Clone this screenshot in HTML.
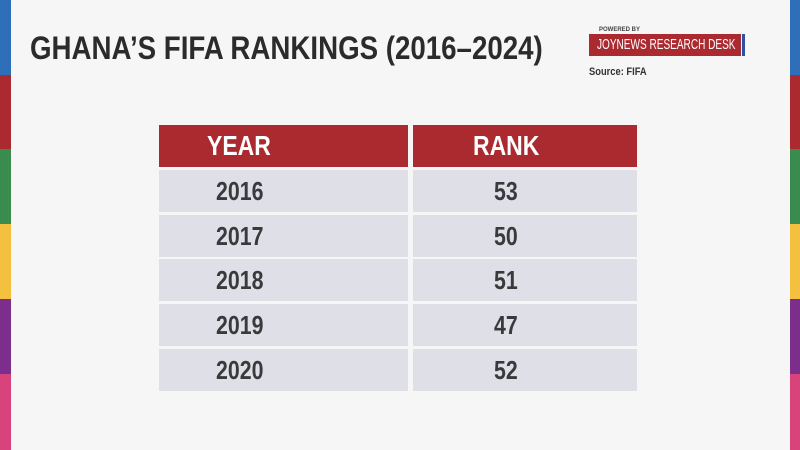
<!DOCTYPE html>
<html><head><style>
body{margin:0;width:800px;height:450px;background:#f6f6f6;position:relative;overflow:hidden;font-family:"Liberation Sans",sans-serif;font-weight:bold}
.s{position:absolute;width:11px}
.r{position:absolute;width:10px;left:790px}
.t{position:absolute;left:30px;top:30px;font-size:32px;color:#2b2b2b;white-space:nowrap;transform:scaleX(0.865);transform-origin:left top}
.c{position:absolute;display:flex;align-items:center;font-size:26px;color:#3a3a3c}
.c span{display:inline-block;transform:scaleX(0.82);transform-origin:left center}
.h{background:#ab2a30;color:#fff;font-size:28px}
.b{background:#dfdfe8}
</style></head><body>
<div class="s" style="left:0;top:0;height:75px;background:#2f6fba"></div>
<div class="s" style="left:0;top:75px;height:74px;background:#ab2a30"></div>
<div class="s" style="left:0;top:149px;height:75px;background:#3a8c4e"></div>
<div class="s" style="left:0;top:224px;height:75px;background:#f3c13f"></div>
<div class="s" style="left:0;top:299px;height:75px;background:#7b2e8c"></div>
<div class="s" style="left:0;top:374px;height:76px;background:#d8437c"></div>
<div class="r" style="top:0;height:75px;background:#2f6fba"></div>
<div class="r" style="top:75px;height:74px;background:#ab2a30"></div>
<div class="r" style="top:149px;height:75px;background:#3a8c4e"></div>
<div class="r" style="top:224px;height:75px;background:#f3c13f"></div>
<div class="r" style="top:299px;height:75px;background:#7b2e8c"></div>
<div class="r" style="top:374px;height:76px;background:#d8437c"></div>
<div class="t">GHANA’S FIFA RANKINGS (2016–2024)</div>
<div style="position:absolute;left:599px;top:27px;font-size:6px;color:#444">POWERED BY</div>
<div style="position:absolute;left:589px;top:34px;width:152px;height:22px;background:#ab2a30"></div>
<div style="position:absolute;left:597px;top:34px;height:22px;color:#fff;font-weight:normal;font-size:15px;line-height:22px;white-space:nowrap;transform:scaleX(0.67);transform-origin:left top">JOYNEWS RESEARCH DESK</div>
<div style="position:absolute;left:742px;top:34px;width:3px;height:22px;background:#2f4fa0"></div>
<div style="position:absolute;left:589px;top:66px;font-size:11px;color:#333;white-space:nowrap;transform:scaleX(0.85);transform-origin:left top">Source: FIFA</div>

<div class="c h" style="left:159px;top:125px;width:249px;height:42px;padding-left:48px;box-sizing:border-box"><span>YEAR</span></div>
<div class="c h" style="left:413px;top:125px;width:224px;height:42px;padding-left:60px;box-sizing:border-box"><span>RANK</span></div>

<div class="c b" style="left:159px;top:170px;width:249px;height:42px;padding-left:57px;box-sizing:border-box"><span>2016</span></div>
<div class="c b" style="left:413px;top:170px;width:224px;height:42px;padding-left:81px;box-sizing:border-box"><span>53</span></div>
<div class="c b" style="left:159px;top:215px;width:249px;height:42px;padding-left:57px;box-sizing:border-box"><span>2017</span></div>
<div class="c b" style="left:413px;top:215px;width:224px;height:42px;padding-left:81px;box-sizing:border-box"><span>50</span></div>
<div class="c b" style="left:159px;top:259px;width:249px;height:42px;padding-left:57px;box-sizing:border-box"><span>2018</span></div>
<div class="c b" style="left:413px;top:259px;width:224px;height:42px;padding-left:81px;box-sizing:border-box"><span>51</span></div>
<div class="c b" style="left:159px;top:304px;width:249px;height:42px;padding-left:57px;box-sizing:border-box"><span>2019</span></div>
<div class="c b" style="left:413px;top:304px;width:224px;height:42px;padding-left:81px;box-sizing:border-box"><span>47</span></div>
<div class="c b" style="left:159px;top:349px;width:249px;height:42px;padding-left:57px;box-sizing:border-box"><span>2020</span></div>
<div class="c b" style="left:413px;top:349px;width:224px;height:42px;padding-left:81px;box-sizing:border-box"><span>52</span></div>
</body></html>
